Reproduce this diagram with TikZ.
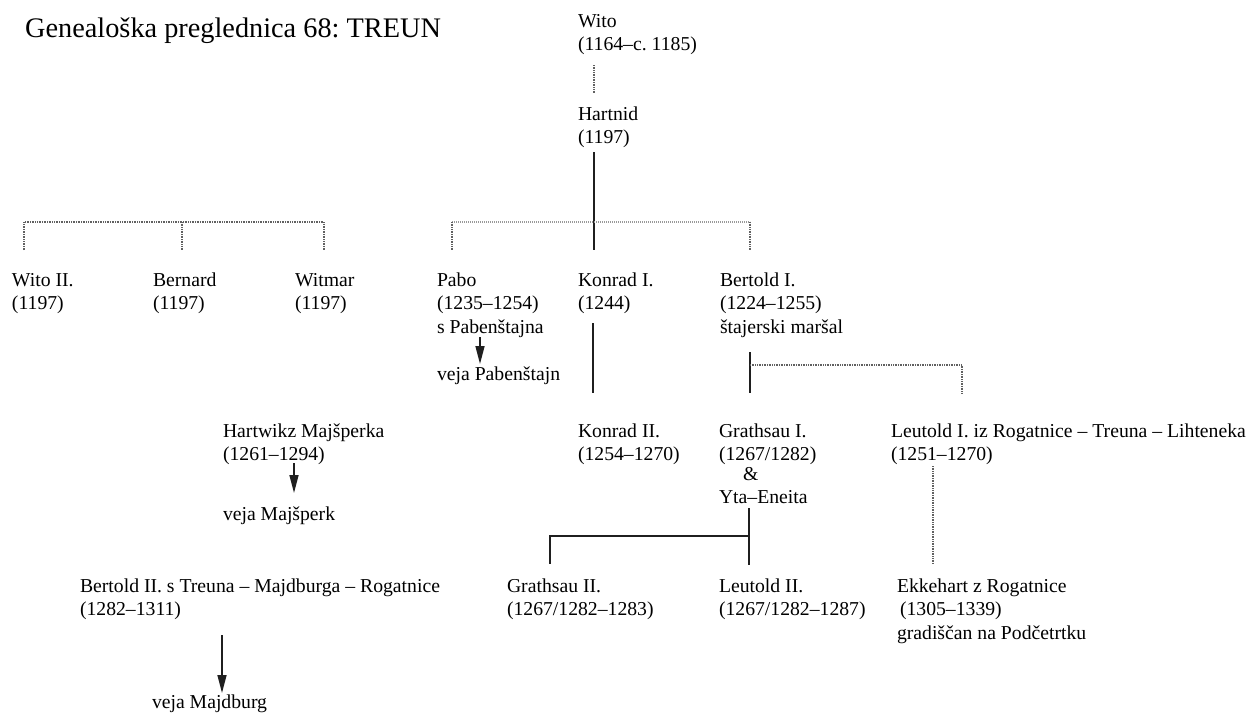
\documentclass[tikz,border=0pt]{standalone}
\usepackage{fontspec}
\setmainfont{Liberation Serif}
\newfontfamily\titlefnt{Liberation Serif}
\usetikzlibrary{arrows.meta}
\newcommand\bodysize{\fontsize{19.7pt}{23.5pt}\selectfont}
\newcommand\up{\rule{0pt}{16pt}}
\frenchspacing
\begin{document}
\begin{tikzpicture}[x=1pt,y=-1pt,
  person/.style={anchor=north west, inner sep=0pt, outer sep=0pt, align=left, font=\bodysize, yshift=16pt},
  solidline/.style={line width=1.7pt, draw=black!88},
  dotline/.style={line width=1.3pt, draw=black!62, dash pattern=on 0.7pt off 1.0pt},
  faintline/.style={line width=1.1pt, draw=black!40, dash pattern=on 1.2pt off 0.8pt},
  descent/.style={line width=1.5pt, draw=black!88, -{Triangle[length=18pt,width=9pt]}},
]
\fill[white] (0,0) rectangle (1252,713);
\useasboundingbox (0,0) rectangle (1252,713);

% title
\node[font=\titlefnt\fontsize{28.3pt}{32pt}\selectfont, anchor=base west, inner sep=0pt] (title) at (25,37) {Genealoška preglednica 68: TREUN};

% people
\node[person] (wito) at (578,27) {\up Wito\\(1164–c. 1185)};
\node[person] (hartnid) at (578,120) {\up Hartnid\\(1197)};
\node[person] (wito2) at (12,286) {\up Wito II.\\(1197)};
\node[person] (bernard) at (153,286) {\up Bernard\\(1197)};
\node[person] (witmar) at (295,286) {\up Witmar\\(1197)};
\node[person] (pabo) at (437,286) {\up Pabo\\(1235–1254)\\s Pabenštajna};
\node[person] (vejapab) at (437,380) {\up veja Pabenštajn};
\node[person] (konrad1) at (578,286) {\up Konrad I.\\(1244)};
\node[person] (bertold1) at (720,286) {\up Bertold I.\\(1224–1255)\\štajerski maršal};
\node[person] (hartwik) at (223,437) {\up Hartwikz Majšperka\\(1261–1294)};
\node[person] (vejamaj) at (223,520) {\up veja Majšperk};
\node[person] (konrad2) at (578,437) {\up Konrad II.\\(1254–1270)};
\node[person] (grathsau1) at (719,437) {\up Grathsau I.\\(1267/1282)\\[-4pt]\hspace{24pt}\&\\Yta–Eneita};
\node[person] (leutold1) at (891,437) {\up Leutold I. iz Rogatnice – Treuna – Lihteneka\\(1251–1270)};
\node[person] (bertold2) at (80,592) {\up Bertold II. s Treuna – Majdburga – Rogatnice\\(1282–1311)};
\node[person] (vejamajd) at (152,708) {\up veja Majdburg};
\node[person] (grathsau2) at (507,592) {\up Grathsau II.\\(1267/1282–1283)};
\node[person] (leutold2) at (719,592) {\up Leutold II.\\(1267/1282–1287)};
\node[person] (ekkehart) at (897,592) {\up Ekkehart z Rogatnice\\\hspace{3pt}(1305–1339)\\gradiščan na Podčetrtku};

% connector points
\coordinate (witoB) at (594,65);
\coordinate (hartT) at (594,93);
\coordinate (hartB) at (594,152);
\coordinate (konrad1T) at (594,250);
\coordinate (paboJ) at (452,222);
\coordinate (paboT) at (452,250);
\coordinate (bertold1J) at (750,222);
\coordinate (bertold1T) at (750,250);
\coordinate (witoIIJ) at (24,222);
\coordinate (witoIIT) at (24,250);
\coordinate (bernardJ) at (182,222);
\coordinate (bernardT) at (182,250);
\coordinate (witmarJ) at (324,222);
\coordinate (witmarT) at (324,250);
\coordinate (paboB) at (480,337);
\coordinate (vejapabT) at (480,364);
\coordinate (konrad1B) at (593,323);
\coordinate (konrad2T) at (593,393);
\coordinate (bertold1B) at (750,352);
\coordinate (bertoldJ) at (750,365);
\coordinate (grathsau1T) at (750,393);
\coordinate (leutold1J) at (962,365);
\coordinate (leutold1T) at (962,393);
\coordinate (leutold1B) at (933,466);
\coordinate (ekkehartT) at (933,563);
\coordinate (hartwikB) at (294,463);
\coordinate (vejamajT) at (294,493);
\coordinate (bertold2B) at (222,635);
\coordinate (vejamajdT) at (222,693);
\coordinate (grathsau1B) at (749,508);
\coordinate (grathJ) at (749,536);
\coordinate (leutold2T) at (749,565);
\coordinate (grathsau2J) at (550,536);
\coordinate (grathsau2T) at (550,564);

% connectors
\draw[dotline] (witoB) -- (hartT);
\draw[solidline] (hartB) -- (konrad1T);
\draw[faintline] (paboJ) -- (bertold1J);
\draw[dotline] (paboJ) -- (paboT);
\draw[dotline] (bertold1J) -- (bertold1T);
\draw[dotline] (witoIIT) -- (witoIIJ) -- (witmarJ) -- (witmarT);
\draw[dotline] (bernardJ) -- (bernardT);
\draw[descent] (paboB) -- (vejapabT);
\draw[solidline] (konrad1B) -- (konrad2T);
\draw[solidline] (bertold1B) -- (grathsau1T);
\draw[dotline] (bertoldJ) -- (leutold1J) -- (leutold1T);
\draw[dotline] (leutold1B) -- (ekkehartT);
\draw[descent] (hartwikB) -- (vejamajT);
\draw[descent] (bertold2B) -- (vejamajdT);
\draw[solidline] (grathsau1B) -- (leutold2T);
\draw[solidline] (grathJ) -- (grathsau2J) -- (grathsau2T);
\end{tikzpicture}
\end{document}
